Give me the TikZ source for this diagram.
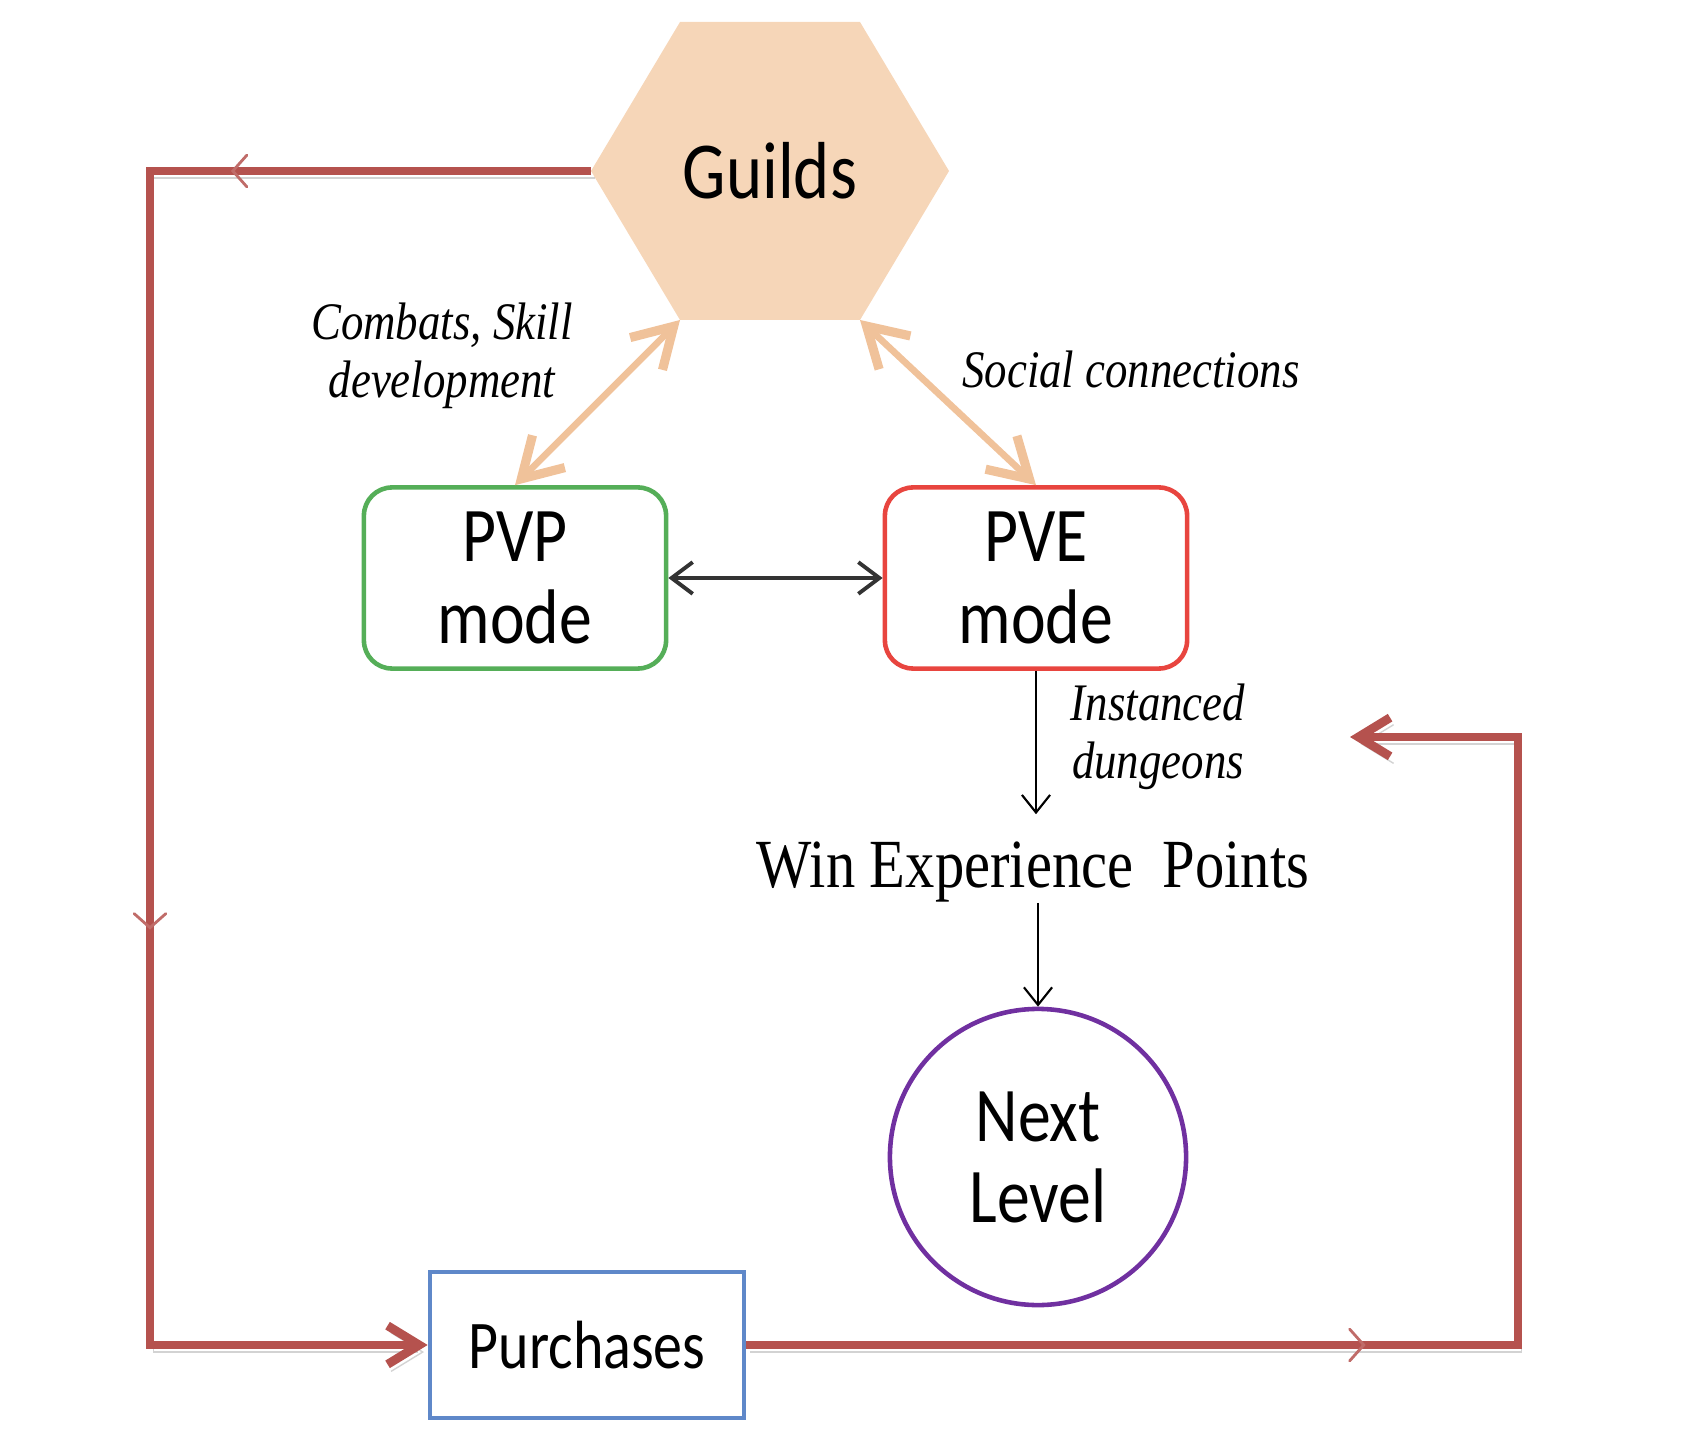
\documentclass[tikz,border=0pt]{standalone}
\usepackage{fontspec}
\setmainfont{Liberation Serif}
\newfontfamily\calf[FakeStretch=0.85]{Carlito}
\newfontfamily\tmsf[FakeStretch=0.85]{Liberation Serif}
\usetikzlibrary{arrows.meta,decorations.markings}
\definecolor{hexfill}{HTML}{F6D6B8}
\definecolor{orangeln}{HTML}{F0C29A}
\definecolor{pvpgreen}{HTML}{55AE58}
\definecolor{pvered}{HTML}{E8453F}
\definecolor{lvlpurple}{HTML}{7030A0}
\definecolor{purchblue}{HTML}{5F88C9}
\definecolor{loopred}{HTML}{B5524E}
\newcommand\mychev{\draw[-, loopred!85, line width=0.8pt, line cap=round] (-4pt,4.5pt) -- (0pt,0pt) -- (-4pt,-4.5pt);}
\begin{document}
\begin{tikzpicture}[x=0.01cm,y=-0.01cm,
  modebox/.style={draw, rounded corners=8pt, line width=1.3pt, minimum width=3.02cm, minimum height=1.81cm, align=center, inner sep=0pt, font=\calf\fontsize{22}{23.4}\selectfont},
  lbl/.style={font=\tmsf\itshape\fontsize{15}{16.5}\selectfont, align=center, inner sep=0pt},
  orarrow/.style={draw=orangeln, line width=1.9pt, {Straight Barb[length=11pt,width=13pt,line width=0.7pt 1]}-{Straight Barb[length=11pt,width=13pt,line width=0.7pt 1]}},
  blkarrow/.style={draw=black!80, line width=1.1pt, {Straight Barb[length=6pt,width=9pt]}-{Straight Barb[length=6pt,width=9pt]}},
  thinarrow/.style={draw=black, line width=0.6pt, -{Straight Barb[length=5pt,width=8pt]}},
  loopline/.style={draw=loopred, line width=2.5pt, line join=miter,
    preaction={draw=black!50, opacity=0.35, transform canvas={shift={(1pt,-2pt)}}}},
  bigbarb/.style={-{Straight Barb[length=9pt,width=11pt]}}
]
\useasboundingbox (0,0) rectangle (1700,1440);
% hexagon
\coordinate (hL) at (591,171);
\coordinate (hTL) at (680,22);
\coordinate (hTR) at (860,22);
\coordinate (hR) at (949,171);
\coordinate (hBR) at (860,320);
\coordinate (hBL) at (680,320);
\fill[hexfill] (hL) -- (hTL) -- (hTR) -- (hR) -- (hBR) -- (hBL) -- cycle;
\node[font=\calf\fontsize{23}{27}\selectfont, inner sep=0pt] (guilds) at (770,171) {Guilds};
% boxes
\node[modebox, draw=pvpgreen] (pvp) at (515,578) {PVP\\mode};
\node[modebox, draw=pvered] (pve) at (1036,578) {PVE\\mode};
\node[lbl] (lcomb) at (442,356) {Combats, Skill\\development};
\node[lbl] (lsoc) at (1131,369) {Social connections};
\node[lbl] (linst) at (1158,737) {Instanced\\dungeons};
\node[anchor=base, font=\tmsf\fontsize{19.6}{22}\selectfont, inner sep=0pt, text height=20.5pt, text depth=4.3pt] (win) at (1033,887) {Win Experience\ \ Points};
\node[circle, draw=lvlpurple, line width=1.3pt, minimum size=2.96cm, inner sep=0pt, align=center, font=\calf\fontsize{22}{23}\selectfont] (lvl) at (1038,1157) {Next\\Level};
\node[draw=purchblue, line width=1.3pt, minimum width=3.14cm, minimum height=1.46cm, inner sep=0pt, font=\calf\fontsize{19.4}{22}\selectfont] (purch) at (587,1345) {Purchases};
\coordinate (ret) at (1350,737);
% connectors
\draw[orarrow] (hBL) -- (pvp.north);
\draw[orarrow] (hBR) -- (pve.north);
\draw[blkarrow] (pvp.east) -- (pve.west);
\draw[thinarrow] (pve.south) -- (pve.south |- win.north);
\draw[thinarrow] (win.south -| lvl.north) -- (lvl.north);
\draw[loopline, bigbarb, postaction={decorate, decoration={markings, mark=at position 3.58cm with {\mychev}, mark=at position 11.97cm with {\mychev}}}] (hL) -- (150,171) |- (purch.west);
\draw[loopline, bigbarb, postaction={decorate, decoration={markings, mark=at position 6.17cm with {\mychev}}}] (purch.east) -| (1518,737) -- (ret);
\end{tikzpicture}
\end{document}
